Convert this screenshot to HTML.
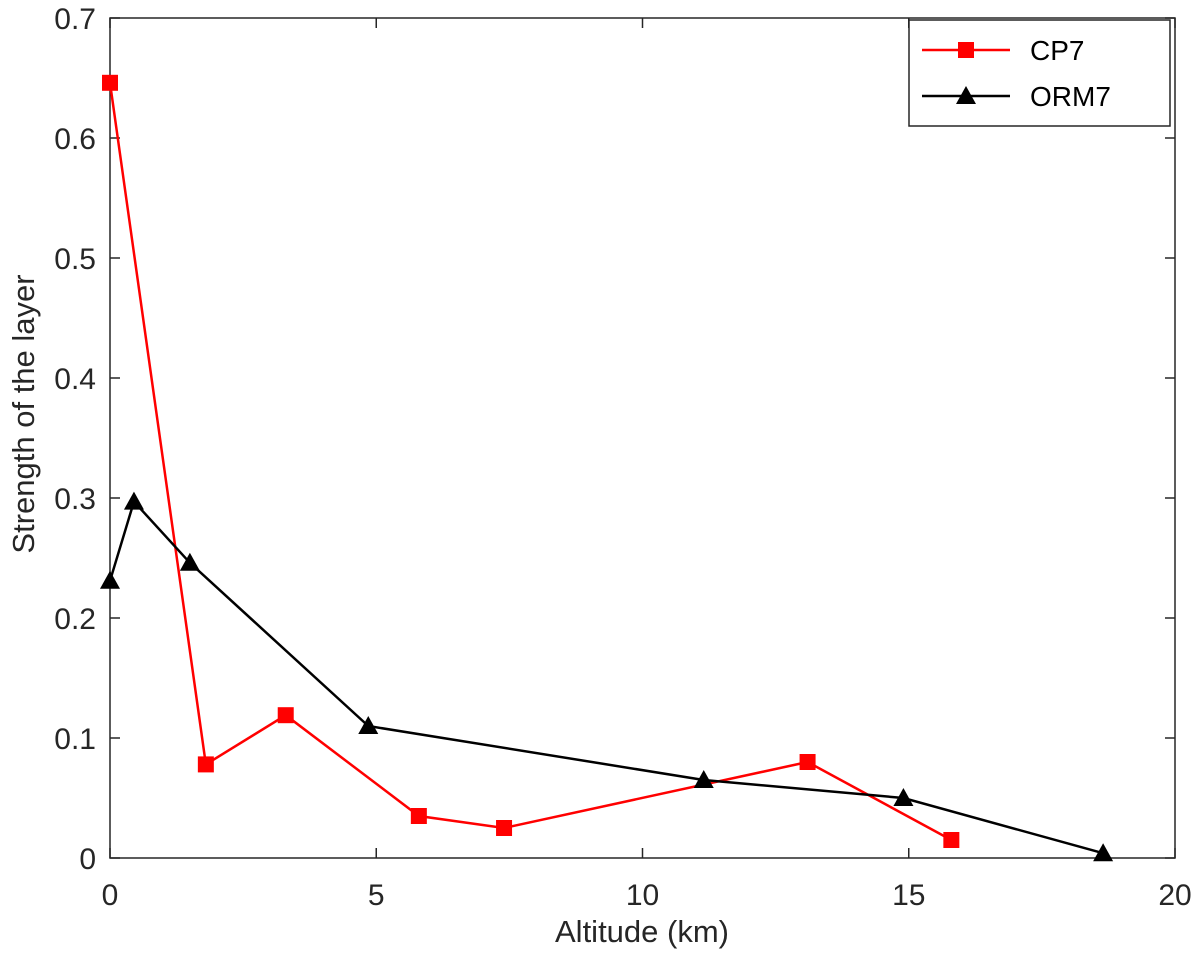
<!DOCTYPE html>
<html><head><meta charset="utf-8"><style>
html,body{margin:0;padding:0;background:#fff;}
svg{display:block;font-family:"Liberation Sans",sans-serif;}
</style></head><body>
<svg id="chart" width="1200" height="968"></svg>
<script>
const xTicks=[0,5,10,15,20];
const yTicks=[0,0.1,0.2,0.3,0.4,0.5,0.6,0.7];
const yTickLabels=["0","0.1","0.2","0.3","0.4","0.5","0.6","0.7"];
const cpX=[0,1.8,3.3,5.8,7.4,13.1,15.8];
const cpY=[0.646,0.078,0.119,0.035,0.025,0.080,0.015];
const ormX=[0,0.45,1.5,4.85,11.15,14.9,18.65];
const ormY=[0.231,0.297,0.246,0.110,0.065,0.050,0.004];

const L=110,R=1175,T=18,B=858;
const sx=v=>L+(v-0)/(20-0)*(R-L);
const sy=v=>B-(v-0)/(0.7-0)*(B-T);
const svg=document.getElementById('chart');
const NS='http://www.w3.org/2000/svg';
function mk(tag,attrs,parent){const e=document.createElementNS(NS,tag);for(const k in attrs)e.setAttribute(k,attrs[k]);(parent||svg).appendChild(e);return e;}

const axes=mk('g',{});


const frame=mk('rect',{x:L,y:T,width:R-L,height:B-T,fill:'none',stroke:'#262626','stroke-width':1.5},axes);



xTicks.forEach(t=>{
  const x=sx(t);
  mk('line',{x1:x,y1:B,x2:x,y2:B-10,stroke:'#262626','stroke-width':1.5},axes);
  mk('line',{x1:x,y1:T,x2:x,y2:T+10,stroke:'#262626','stroke-width':1.5},axes);
  const tx=mk('text',{x:x,y:B+47,'text-anchor':'middle','font-size':30,fill:'#262626'},axes);
  tx.textContent=t;
  
  
});
yTicks.forEach((t,i)=>{
  const y=sy(t);
  mk('line',{x1:L,y1:y,x2:L+10,y2:y,stroke:'#262626','stroke-width':1.5},axes);
  mk('line',{x1:R,y1:y,x2:R-10,y2:y,stroke:'#262626','stroke-width':1.5},axes);
  const tx=mk('text',{x:L-14,y:y+11,'text-anchor':'end','font-size':30,fill:'#262626'},axes);
  tx.textContent=yTickLabels[i];
  
  
});
const xt=mk('text',{x:642,y:942,'text-anchor':'middle','font-size':31,fill:'#262626'});
xt.textContent='Altitude (km)';


const yt=mk('text',{x:0,y:0,'text-anchor':'middle','font-size':31,fill:'#262626',transform:`translate(34,414) rotate(-90)`});
yt.textContent='Strength of the layer';



// CP7
const cpG=mk('g',{});


mk('polyline',{points:cpX.map((x,i)=>sx(x)+','+sy(cpY[i])).join(' '),fill:'none',stroke:'#ff0000','stroke-width':2.5},cpG);
cpX.forEach((x,i)=>{
  const m=mk('rect',{x:sx(x)-8,y:sy(cpY[i])-8,width:16,height:16,fill:'#ff0000'},cpG);
  
  
});
// ORM7
const oG=mk('g',{});


mk('polyline',{points:ormX.map((x,i)=>sx(x)+','+sy(ormY[i])).join(' '),fill:'none',stroke:'#000','stroke-width':2.5},oG);
function tri(cx,cy){return `${cx},${cy-10} ${cx-10},${cy+8} ${cx+10},${cy+8}`;}
ormX.forEach((x,i)=>{
  const m=mk('polygon',{points:tri(sx(x),sy(ormY[i])),fill:'#000'},oG);
  
  
});

// Legend
const lg=mk('g',{});


mk('rect',{x:909,y:20,width:261,height:106,fill:'#fff',stroke:'#262626','stroke-width':1.5},lg);
const e1=mk('g',{},lg);


mk('line',{x1:922,y1:50,x2:1010,y2:50,stroke:'#ff0000','stroke-width':2.5},e1);
mk('rect',{x:958,y:42,width:16,height:16,fill:'#ff0000'},e1);
const t1=mk('text',{x:1030,y:60,'font-size':28,fill:'#000'},e1);t1.textContent='CP7';
const e2=mk('g',{},lg);


mk('line',{x1:922,y1:96,x2:1010,y2:96,stroke:'#000','stroke-width':2.5},e2);
mk('polygon',{points:tri(966,96),fill:'#000'},e2);
const t2=mk('text',{x:1030,y:106,'font-size':28,fill:'#000'},e2);t2.textContent='ORM7';
</script>
</body></html>
